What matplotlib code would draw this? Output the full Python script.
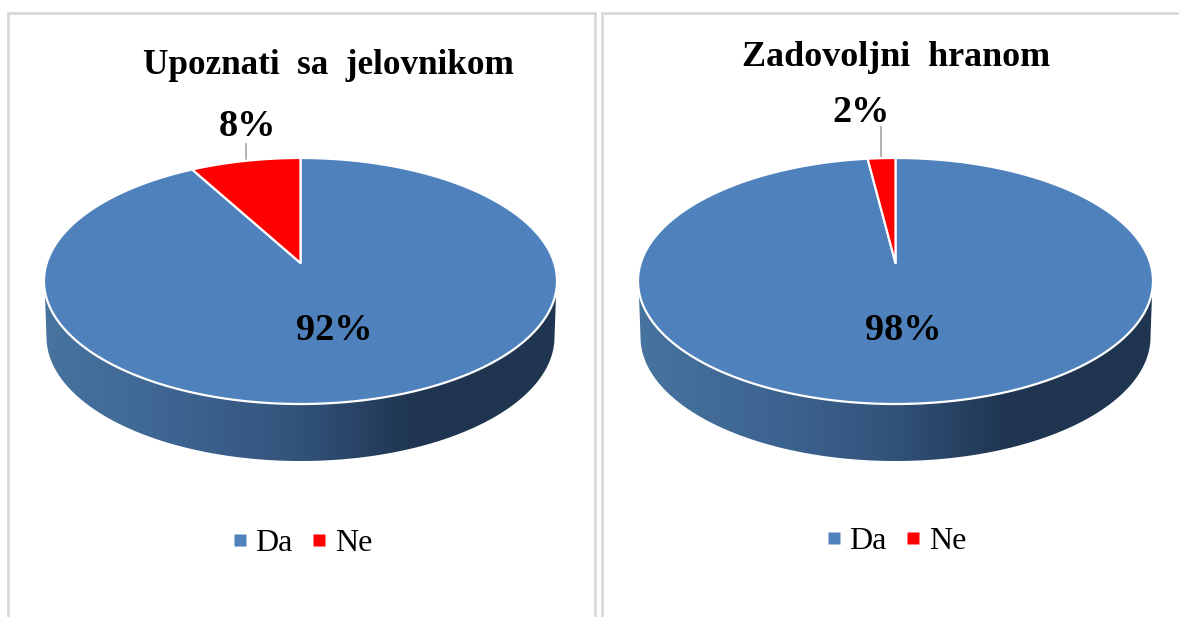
import numpy as np
import matplotlib
matplotlib.use("Agg")
import matplotlib.pyplot as plt
from matplotlib.colors import LinearSegmentedColormap
from matplotlib.lines import Line2D
from matplotlib.patches import Polygon
from matplotlib.transforms import Affine2D

# ---- data ----
categories = ["Da", "Ne"]
titles = ["Upoznati  sa  jelovnikom", "Zadovoljni  hranom"]
values_left = [92, 8]
values_right = [98, 2]
colors = ["#4F81BD", "#FF0000"]

W, H = 1179, 617
plt.rcParams["font.family"] = ["Liberation Serif", "DejaVu Serif"]
fig = plt.figure(figsize=(W / 100, H / 100), dpi=100, facecolor="white")

# panel frames, in pixels of the figure
bg = fig.add_axes([0, 0, 1, 1])
bg.set_xlim(0, W)
bg.set_ylim(H, 0)
bg.axis("off")
FRAME = "#D9D9D9"
for xs, ys in [((8, 8, 595, 595), (H, 12.5, 12.5, H)),
               ((602, 602, W), (H, 12.5, 12.5))]:
    bg.plot(xs, ys, color=FRAME, lw=2.0, solid_joinstyle="miter", zorder=1)

side_cmap = LinearSegmentedColormap.from_list(
    "side", [(0, "#47739F"), (0.25, "#3E6592"), (0.5, "#32527A"),
             (0.72, "#1F3550"), (1, "#1F3550")])

TOP_UP, BOTTOM_DOWN = 105.0, 141.0   # apex to rim, pixels
K = (BOTTOM_DOWN - TOP_UP) / (BOTTOM_DOWN + TOP_UP)
A = TOP_UP * (1 + K)
FINE = 2000.0


def perspective(xy, rx):
    """Tilt the unit pie so that its apex sits behind the ellipse centre."""
    b = rx * np.sqrt(1 - K ** 2)
    d = 1 + K * xy[:, 1]
    return np.column_stack([b * xy[:, 0] / d, A * xy[:, 1] / d])


def draw_panel(values, title, title_size, cx, rx, title_xy, small_xy, big_xy, leader, legend_xy):
    ax = fig.add_axes([0, 0, 1, 1], facecolor="none")
    wedges, _ = ax.pie(values, colors=colors, startangle=90, counterclock=False)
    ax.axis("off")

    # side wall of the disc
    dy = -18.0 - 56.0
    t = np.linspace(np.pi, 2 * np.pi, 300)
    rim_rx = rx - 2.5
    lower = np.column_stack([rim_rx * np.cos(t), dy + 124 * np.sin(t)])
    outline = np.vstack([[[-rx + 0.5, -19.0]], lower, [[rx - 0.5, -19.0]]])
    clip = Polygon(outline, closed=True, transform=ax.transData, fc="none", ec="none")
    ax.add_patch(clip)
    grad = np.linspace(0, 1, 256).reshape(1, -1)
    im = ax.imshow(grad, cmap=side_cmap, aspect="auto", zorder=1,
                   extent=(-rx, rx, dy - 126, 0), interpolation="bilinear")
    im.set_clip_path(clip)
    ax.set_aspect("auto")
    ax.set_xlim(-cx, W - cx)
    ax.set_ylim(263 - H, 263)      # apex row at y = 0

    # re-shape each pie wedge with the tilt
    for w, col in zip(wedges, colors):
        poly = w.get_path().to_polygons(Affine2D().scale(FINE), closed_only=True)[0] / FINE
        ax.add_patch(Polygon(perspective(poly, rx), closed=True, fc=col,
                             ec="white", lw=1.6, zorder=3, joinstyle="round"))
        w.set_visible(False)

    bg.plot(leader[0], leader[1], color="#A6A6A6", lw=1.2, zorder=2)
    fig.text(title_xy[0] / W, 1 - title_xy[1] / H, title, fontsize=title_size,
             fontweight="bold", ha="center", va="center", color="black")
    fig.text(small_xy[0] / W, 1 - small_xy[1] / H, f"{values[1]}%", fontsize=27.6,
             fontweight="bold", ha="center", va="center", color="black")
    fig.text(big_xy[0] / W, 1 - big_xy[1] / H, f"{values[0]}%", fontsize=27.6,
             fontweight="bold", ha="center", va="center", color="black", zorder=6)

    handles = [Line2D([], [], ls="none", marker="s", ms=8, mfc=c, mec="none")
               for c in colors]
    fig.legend(handles, categories, loc="center",
               bbox_to_anchor=(legend_xy[0] / W, 1 - legend_xy[1] / H),
               ncol=2, frameon=False, fontsize=23, handlelength=0.5,
               handletextpad=0.25, columnspacing=0.57, borderpad=0)


draw_panel(values_left, titles[0], 25.3, 300.5, 256.5, (328, 65), (247, 126), (334, 331),
           ((246, 246), (144, 161)), (302, 543))
draw_panel(values_right, titles[1], 25.9, 895.5, 257.5, (896, 58), (861, 113), (903, 331),
           ((881, 881), (127, 158)), (896, 541))

fig.savefig("out.png", dpi=100, facecolor="white")
